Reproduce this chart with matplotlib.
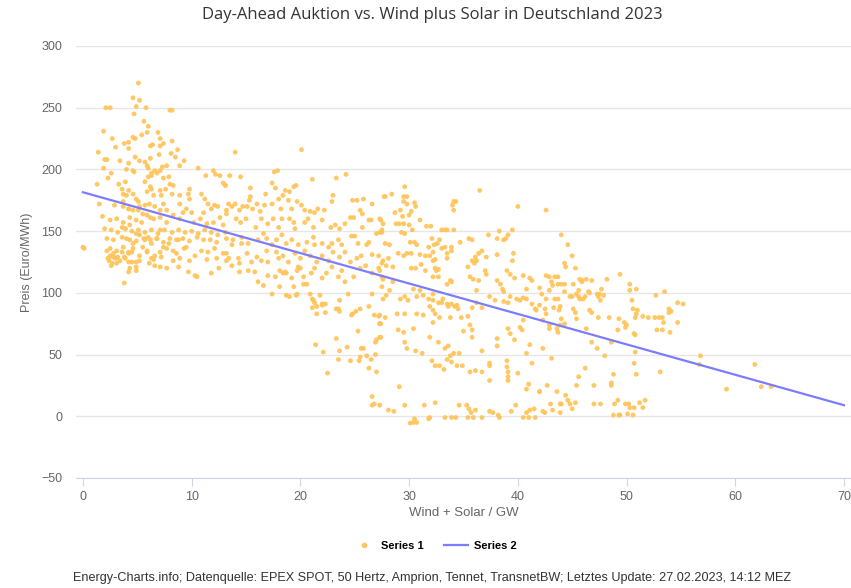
import matplotlib
matplotlib.use("Agg")
import matplotlib.pyplot as plt
from matplotlib.lines import Line2D

plt.rcParams['font.family'] = ['Liberation Sans', 'DejaVu Sans']

# Series 1: hourly points (Wind + Solar in GW, price in Euro/MWh)
pts_0_13 = [
    (0.0, 137), (0.1, 136),
    (5.1, 270), (4.6, 258), (5.2, 256), (2.1, 250), (2.5, 250), (4.9, 251), (5.8, 250),
    (4.7, 245), (8.0, 248), (8.2, 248), (5.6, 239), (6.0, 235),
    (1.9, 231), (5.9, 230), (6.9, 230), (5.4, 228), (4.6, 226), (4.8, 225), (2.7, 225), (7.1, 225),
    (8.2, 223), (4.2, 222), (3.8, 221),
    (6.4, 220), (6.2, 219), (7.4, 221), (7.1, 219), (3.0, 218), (4.2, 217), (1.4, 214), (8.7, 216),
    (8.1, 213), (7.0, 212), (4.8, 210), (6.2, 209), (8.5, 210), (2.0, 208), (2.2, 208), (5.2, 207),
    (3.4, 207),
    (5.7, 206), (4.2, 205), (7.7, 203), (5.9, 203), (8.9, 203), (9.3, 207), (7.3, 202), (4.0, 200),
    (4.6, 199), (4.7, 198), (7.1, 199), (6.6, 199), (6.0, 201), (1.9, 201), (6.8, 197), (6.3, 197),
    (10.6, 201), (12.0, 199), (2.6, 197), (12.2, 196), (12.6, 195),
    (11.3, 195), (6.0, 194), (6.3, 195), (7.9, 194), (7.4, 193), (2.3, 193), (5.7, 190), (3.9, 190),
    (8.0, 188), (3.3, 188), (12.9, 189), (1.3, 188), (8.3, 187), (13.1, 187), (9.8, 184), (6.2, 186),
    (3.6, 184), (6.3, 184), (7.6, 184), (4.2, 183), (7.1, 183), (5.9, 182),
    (3.7, 180), (4.6, 180), (9.7, 180), (10.9, 180), (8.2, 180), (8.9, 179), (4.0, 179), (6.5, 179),
    (7.2, 179), (4.9, 176), (11.2, 176), (9.8, 176), (5.1, 174), (1.5, 172), (11.5, 172), (8.9, 172),
    (6.1, 172), (2.9, 171), (5.7, 171), (12.1, 171), (3.7, 170), (5.2, 170), (12.4, 170), (6.6, 170),
    (11.8, 168), (9.5, 168), (4.2, 168),
    (4.6, 167), (7.1, 167), (13.2, 167), (9.2, 165), (11.1, 165), (10.0, 165), (13.2, 164), (1.8, 162),
    (4.3, 161), (7.1, 161), (12.6, 161), (5.9, 163), (8.3, 163), (3.1, 160), (6.5, 160), (8.9, 160),
    (10.8, 160), (2.5, 159), (4.9, 159), (3.7, 157), (5.4, 157), (7.7, 157), (10.2, 157), (12.0, 157),
    (11.4, 156), (12.9, 155),
    (2.0, 152), (2.6, 151), (3.2, 149), (3.9, 152), (4.5, 150), (5.1, 151), (5.7, 149), (6.3, 151),
    (6.9, 148), (7.5, 151), (8.2, 149), (8.8, 151), (9.4, 149), (10.0, 150), (10.6, 148), (11.2, 151),
    (11.8, 149), (12.4, 147),
    (2.2, 144), (2.8, 143), (3.6, 145), (4.3, 143), (4.9, 142), (5.6, 144), (6.2, 143), (6.8, 144),
    (7.4, 141), (8.0, 144), (8.6, 143), (9.2, 144), (9.8, 142), (10.5, 145), (11.1, 143), (11.7, 143),
    (12.3, 141), (13.2, 144),
    (2.5, 136), (3.1, 134), (3.7, 137), (4.2, 133), (4.6, 136), (5.2, 130), (5.9, 134), (7.1, 133),
    (7.7, 136), (8.6, 132), (9.5, 137), (10.3, 130), (10.9, 134), (11.5, 133), (12.1, 136), (12.9, 132),
    (2.3, 128), (2.8, 129), (3.4, 126), (3.9, 128), (4.5, 125), (5.2, 126), (6.3, 128), (7.2, 129),
    (8.3, 126), (8.9, 128), (9.8, 126), (11.4, 127), (12.3, 128), (13.2, 126),
    (2.6, 122), (4.3, 120), (4.9, 121), (6.6, 122), (7.7, 120), (8.8, 121), (9.7, 117), (10.3, 114),
    (10.5, 113), (11.8, 116), (12.5, 120), (4.2, 117), (4.9, 118), (3.8, 108),
    (2.2, 134), (2.5, 130), (2.8, 132), (3.0, 128), (3.2, 129), (3.6, 133), (2.4, 126), (2.7, 124),
    (3.1, 124), (3.8, 129), (4.2, 132), (4.5, 133), (4.6, 140), (5.2, 147), (5.7, 143), (6.0, 145),
    (6.3, 140), (6.8, 144), (7.1, 151), (3.9, 152), (4.3, 155), (3.6, 153), (4.0, 144), (4.9, 148),
    (5.5, 137), (5.9, 133), (6.6, 130), (7.4, 137), (7.9, 140), (8.3, 134), (8.8, 143), (9.3, 136),
    (5.1, 167), (5.5, 164), (6.2, 161), (4.2, 168), (3.7, 174), (7.4, 172), (7.7, 167), (4.2, 125),
    (4.9, 125), (6.5, 127), (7.1, 121), (6.1, 124),
]

pts_13_28 = [
    (14.0, 214), (20.1, 216), (17.6, 198), (17.9, 199), (17.4, 189), (13.5, 195), (14.5, 194),
    (21.1, 192), (23.3, 193), (24.2, 196),
    (13.1, 187), (15.4, 185), (17.7, 185), (18.6, 183), (19.0, 182), (19.4, 186), (19.6, 187),
    (16.8, 180), (18.0, 176), (18.4, 179), (18.9, 175), (19.7, 174), (15.4, 178), (15.3, 175),
    (14.0, 172), (13.4, 172), (13.7, 170), (14.4, 167), (14.7, 170), (15.1, 170), (15.6, 168),
    (16.0, 172), (16.3, 166), (16.7, 171), (17.4, 172), (18.2, 168), (19.2, 168), (20.1, 171),
    (20.4, 167), (20.9, 166), (21.3, 165), (21.6, 168), (22.2, 167), (22.9, 174), (23.0, 179),
    (24.8, 175), (25.2, 175), (25.8, 176), (26.6, 172), (27.7, 178), (25.5, 167), (25.7, 164),
    (24.6, 161), (24.9, 161), (26.5, 159), (27.3, 160),
    (14.1, 160), (14.5, 157), (15.0, 160), (15.9, 153), (16.4, 160), (17.0, 156), (17.5, 160),
    (18.0, 153), (18.3, 160), (19.0, 160), (19.4, 157), (19.5, 152), (20.4, 157), (20.7, 160),
    (21.2, 153), (22.0, 159), (22.8, 153), (23.2, 155), (23.6, 152), (24.1, 156), (25.7, 153),
    (26.3, 159),
    (13.1, 149), (13.8, 143), (14.6, 145), (13.7, 139), (14.6, 140), (15.2, 140), (16.1, 143),
    (16.6, 148), (16.9, 144), (17.4, 139), (17.8, 143), (18.3, 147), (18.7, 140), (19.2, 143),
    (19.8, 139), (20.6, 141), (21.2, 145), (21.3, 139), (22.0, 140), (22.6, 137), (22.9, 140),
    (23.5, 143), (23.8, 139), (24.7, 146), (25.0, 146), (25.3, 140), (26.1, 139), (26.3, 141),
    (27.0, 148), (27.5, 151),
    (13.2, 132), (13.4, 128), (14.3, 128), (14.4, 124), (15.1, 132), (15.5, 125), (16.0, 129),
    (16.4, 126), (16.9, 134), (17.0, 125), (17.8, 133), (18.0, 128), (18.4, 130), (18.9, 125),
    (19.5, 132), (20.0, 128), (20.4, 134), (20.9, 130), (21.5, 125), (22.0, 130), (22.6, 126),
    (23.0, 133), (23.6, 129), (24.1, 133), (24.6, 125), (25.2, 128), (25.6, 130), (26.6, 131),
    (27.2, 130), (27.5, 124),
    (13.7, 122), (14.4, 117), (15.2, 118), (15.8, 117), (17.0, 114), (17.7, 113), (18.1, 118),
    (18.4, 116), (18.6, 117), (18.7, 116), (19.2, 112), (19.7, 118), (19.8, 121), (20.0, 120),
    (20.3, 113), (20.6, 107), (21.0, 116), (21.3, 120), (22.0, 112), (22.4, 116), (22.9, 121),
    (23.5, 113), (23.8, 118), (24.1, 109), (24.9, 113), (25.5, 120), (26.0, 122), (26.6, 116),
    (27.2, 120), (27.5, 113),
    (16.1, 109), (16.6, 106), (17.4, 99), (18.1, 105), (18.7, 98), (19.4, 105), (19.7, 99),
    (20.3, 107), (20.9, 99), (21.1, 95), (21.3, 92), (21.5, 89), (21.8, 98), (22.0, 91), (22.3, 91),
    (22.3, 84), (23.5, 87), (23.6, 94), (24.4, 99), (24.8, 83), (25.5, 87), (26.3, 89), (26.6, 99),
    (26.8, 82), (27.3, 75),
    (19.0, 97), (19.6, 98), (21.2, 94), (21.5, 83), (21.1, 88), (22.0, 90), (23.3, 87), (23.6, 85),
    (24.7, 82), (25.1, 85), (27.2, 81), (27.4, 75), (25.3, 69), (21.4, 58), (22.1, 52), (23.3, 63),
    (23.6, 53), (24.3, 56), (23.5, 46), (24.6, 45), (25.4, 45), (25.5, 48), (25.6, 55), (25.8, 55),
    (26.1, 49), (26.5, 46), (26.9, 60), (27.0, 62), (27.4, 64), (26.9, 50), (26.3, 39), (27.0, 36),
    (22.5, 35), (26.6, 16), (26.6, 9), (26.8, 10),
]

pts_27_42 = [
    (29.6, 186), (36.5, 183), (27.8, 178), (28.4, 180), (29.5, 178), (29.8, 178), (29.5, 174),
    (29.8, 172), (30.5, 173), (30.6, 170), (34.1, 174), (34.3, 174), (34.0, 171), (34.1, 167),
    (40.0, 170), (28.7, 165), (29.2, 167), (29.4, 162), (30.2, 166), (30.0, 163), (27.4, 159),
    (27.6, 156), (28.8, 156), (29.1, 156), (29.5, 156), (30.0, 155), (30.3, 151), (31.0, 159),
    (31.6, 154), (32.0, 154), (27.3, 149), (27.5, 149), (29.3, 149), (29.6, 148), (33.0, 151),
    (33.3, 151), (33.5, 151), (34.1, 151), (38.3, 150), (39.5, 151), (37.3, 147), (39.1, 147),
    (38.9, 144), (38.7, 143), (32.1, 144), (32.8, 143), (32.6, 140), (32.3, 139), (31.8, 137),
    (33.3, 137), (33.0, 136), (33.9, 137), (34.7, 141), (35.5, 144), (35.8, 143), (38.1, 144),
    (30.1, 141), (30.5, 141), (30.7, 139), (27.8, 140), (28.2, 139),
    (29.0, 132), (29.5, 130), (29.8, 132), (30.2, 132), (31.0, 131), (31.5, 130), (31.9, 130),
    (32.2, 133), (32.4, 127), (32.2, 126), (33.5, 132), (33.9, 134), (33.5, 128), (36.4, 132),
    (36.1, 129), (35.8, 126), (36.2, 126), (36.0, 124), (37.1, 129), (36.7, 134), (38.1, 131),
    (39.6, 132), (39.5, 126), (27.6, 126), (28.1, 128), (27.9, 122), (28.5, 121),
    (31.1, 123), (30.6, 120), (30.2, 120), (31.5, 118), (32.4, 120), (32.5, 118), (32.7, 119),
    (32.7, 113), (32.2, 113), (33.8, 110), (33.9, 109), (33.5, 107), (35.4, 121), (35.6, 113),
    (35.9, 111), (36.4, 110), (36.2, 102), (37.0, 118), (37.1, 115), (38.1, 110), (38.4, 107),
    (38.6, 103), (38.7, 101), (39.0, 118), (39.3, 115), (39.7, 112), (40.5, 114), (41.1, 112),
    (41.3, 110), (40.8, 103), (27.3, 118), (27.6, 111), (28.5, 109), (28.2, 102), (27.5, 105),
    (27.9, 98), (27.6, 95),
    (29.2, 95), (29.6, 97), (29.9, 94), (30.4, 103), (30.7, 97), (31.0, 102), (31.3, 98),
    (31.8, 95), (32.2, 99), (32.2, 94), (32.7, 92), (33.0, 92), (33.1, 95), (33.5, 91), (33.6, 89),
    (33.9, 91), (34.2, 89), (34.4, 90), (34.5, 87), (33.8, 80), (31.9, 89), (32.2, 86), (32.4, 83),
    (32.8, 80), (32.2, 76), (34.8, 80), (35.4, 81), (35.8, 88), (36.2, 92), (36.7, 88), (37.4, 97),
    (37.9, 94), (38.7, 93), (39.1, 92), (39.3, 97), (39.9, 95), (40.2, 94), (40.5, 96), (40.8, 95),
    (41.3, 91), (41.6, 87), (41.7, 86), (27.3, 82), (27.3, 75), (27.3, 64), (27.8, 80),
    (28.9, 83), (29.6, 83), (30.7, 83), (31.3, 82),
    (29.0, 70), (29.5, 68), (30.4, 71), (29.6, 60), (29.8, 55), (30.6, 53), (31.2, 51),
    (31.9, 64), (32.7, 60), (33.3, 55), (33.6, 57), (34.1, 51), (33.8, 49), (33.5, 46), (33.9, 44),
    (34.6, 51), (35.0, 69), (35.6, 74), (35.8, 70), (35.8, 64), (36.7, 53), (38.1, 57), (37.4, 43),
    (37.4, 41), (38.1, 63), (39.1, 71), (39.3, 67), (39.7, 62), (40.2, 72), (40.4, 70), (40.5, 78),
    (41.1, 58), (40.8, 51),
    (32.1, 45), (32.4, 41), (32.8, 41), (33.2, 38), (34.4, 41), (34.9, 41), (35.6, 36),
    (36.1, 37), (36.7, 36), (39.0, 45), (39.0, 40), (39.1, 36), (39.1, 32), (39.1, 29), (40.0, 35),
    (40.8, 22), (41.0, 26), (42.0, 20), (41.3, 43), (37.4, 29), (29.1, 24),
    (27.3, 9), (28.1, 5), (28.6, 4), (29.6, 9), (31.4, 9), (32.4, 11), (31.9, -1), (31.8, -2),
    (30.4, -5), (30.1, -5.5), (30.5, -2), (30.7, -5), (33.3, -1), (33.9, -1), (34.3, -1), (34.6, 9),
    (35.3, 9), (35.5, 6), (35.7, 3), (35.9, -1), (35.4, -1), (36.1, 5), (36.7, -1), (37.4, 4),
    (37.7, 3), (38.2, 1), (38.3, -1), (39.4, 4), (39.8, 9), (40.5, -1), (40.8, 3), (41.1, 5),
    (41.5, 6), (41.6, -1), (41.0, -1),
]

pts_42_65 = [
    (42.6, 167), (44.0, 147), (44.6, 139), (45.0, 130), (44.3, 124), (44.4, 121), (45.3, 120),
    (42.6, 114), (42.9, 113), (43.4, 113), (43.7, 113),
    (43.1, 109), (43.2, 106), (43.7, 107), (44.0, 107), (44.3, 107), (45.1, 107), (45.7, 111),
    (45.9, 110), (46.3, 111), (46.8, 110), (45.9, 109), (48.2, 111), (49.4, 115), (50.3, 107),
    (50.9, 103), (50.3, 102), (47.7, 103), (47.5, 99), (47.9, 98), (46.5, 101), (45.6, 102),
    (45.4, 99), (42.0, 104), (42.2, 99), (42.9, 102), (42.6, 95), (43.4, 95), (43.7, 95),
    (43.9, 89), (44.3, 101), (44.8, 97), (45.0, 97), (45.6, 97), (45.7, 95), (46.0, 95), (46.2, 97),
    (46.6, 100), (47.3, 99), (47.4, 97), (47.6, 94),
    (46.6, 86), (46.8, 84), (47.4, 80), (48.4, 80), (49.3, 79), (49.8, 76), (50.0, 74), (50.5, 94),
    (50.6, 87), (50.8, 80), (50.9, 83), (51.0, 86), (51.5, 81), (52.0, 80), (52.6, 80), (53.0, 80),
    (53.3, 80), (53.4, 76), (52.8, 70), (53.3, 70), (52.7, 98), (53.5, 101), (53.9, 87), (54.1, 85),
    (53.9, 84), (54.7, 92), (55.2, 91), (54.7, 76), (54.0, 68), (50.8, 66),
    (42.0, 90), (42.5, 87), (42.6, 83), (43.3, 88), (43.8, 86), (44.0, 79), (43.6, 71), (43.7, 68),
    (43.9, 74), (44.3, 75), (42.9, 74), (42.3, 78), (42.9, 71), (42.3, 55), (43.1, 47),
    (45.1, 87), (45.3, 84), (45.4, 79), (46.3, 71), (46.8, 60), (47.3, 55), (48.0, 49), (48.6, 60),
    (49.2, 70), (49.9, 72), (50.7, 67), (50.8, 52), (50.7, 43), (50.9, 34), (53.1, 36), (56.8, 49),
    (56.7, 42), (61.8, 42), (59.2, 22), (62.4, 24), (63.3, 24),
    (42.7, 25), (43.6, 20), (42.0, 20), (43.0, 10), (43.9, 10), (44.0, 10), (44.4, 17), (44.6, 13),
    (44.8, 10), (45.0, 6), (45.3, 11), (45.6, 32), (45.4, 25), (46.2, 39), (47.0, 25), (47.0, 10),
    (47.6, 10), (48.6, 27), (48.6, 25), (48.8, 34), (48.9, 10), (49.2, 13), (48.8, 1), (49.3, 1),
    (49.4, 1), (49.9, 10), (50.2, 10), (50.3, 7), (50.1, 2), (50.6, 1), (50.7, 7), (51.2, 11),
    (51.5, 7), (51.7, 13), (42.3, 4), (42.5, 3), (43.2, 5), (43.9, 3),
]

# Series 2: linear trend line
trend_gw = [0, 70]
trend_price = [181.5, 9]

x_ticks = [0, 10, 20, 30, 40, 50, 60, 70]
y_ticks = [-50, 0, 50, 100, 150, 200, 250, 300]

points = pts_0_13 + pts_13_28 + pts_27_42 + pts_42_65
gw = [p[0] for p in points]
price = [p[1] for p in points]

fig = plt.figure(figsize=(8.51, 5.88), dpi=100)
ax = fig.add_axes([76 / 851, 1 - 478 / 588, (851 - 76) / 851, (478 - 46) / 588])

ax.scatter(gw, price, s=12, color='#ffc55c', alpha=0.95, edgecolors='none', zorder=2)
ax.plot(trend_gw, trend_price, color='#7c7cff', linewidth=1.6, zorder=3)

ax.set_xlim(-0.64, 70.65)
ax.set_ylim(-50, 300)
ax.set_xticks(x_ticks)
ax.set_yticks(y_ticks)
ax.grid(axis='y', color='#e6e6e6', linewidth=1)
ax.set_axisbelow(True)
for s in ['top', 'right', 'left']:
    ax.spines[s].set_visible(False)
ax.spines['bottom'].set_color('#ccd6eb')
ax.tick_params(axis='x', colors='#ccd6eb', length=6, labelcolor='#666666', labelsize=9, pad=3)
ax.tick_params(axis='y', length=0, labelcolor='#666666', labelsize=9, pad=10)

ax.set_xlabel('Wind + Solar / GW', fontsize=9.5, color='#666666', labelpad=3)
ax.set_ylabel('Preis (Euro/MWh)', fontsize=9, color='#666666', labelpad=6)

fig.text(0.508, 0.975, 'Day-Ahead Auktion vs. Wind plus Solar in Deutschland 2023',
         ha='center', va='center', fontsize=12, color='#333333', family=['Open Sans', 'DejaVu Sans'])

handles = [Line2D([], [], marker='o', linestyle='none', markersize=3, color='#ffc55c'),
           Line2D([], [], color='#7c7cff', linewidth=1.6)]
fig.legend(handles, ['Series 1', 'Series 2'], loc='center', bbox_to_anchor=(0.51, 1 - 546 / 588),
           ncol=2, frameon=False, prop={'size': 8, 'weight': 'bold'}, handlelength=2.2,
           columnspacing=1.8, handletextpad=0.5)

fig.text(0.508, 1 - 578 / 588,
         'Energy-Charts.info; Datenquelle: EPEX SPOT, 50 Hertz, Amprion, Tennet, TransnetBW; '
         'Letztes Update: 27.02.2023, 14:12 MEZ',
         ha='center', va='center', fontsize=9.1, color='#333333')

fig.savefig('out.png', dpi=100)
